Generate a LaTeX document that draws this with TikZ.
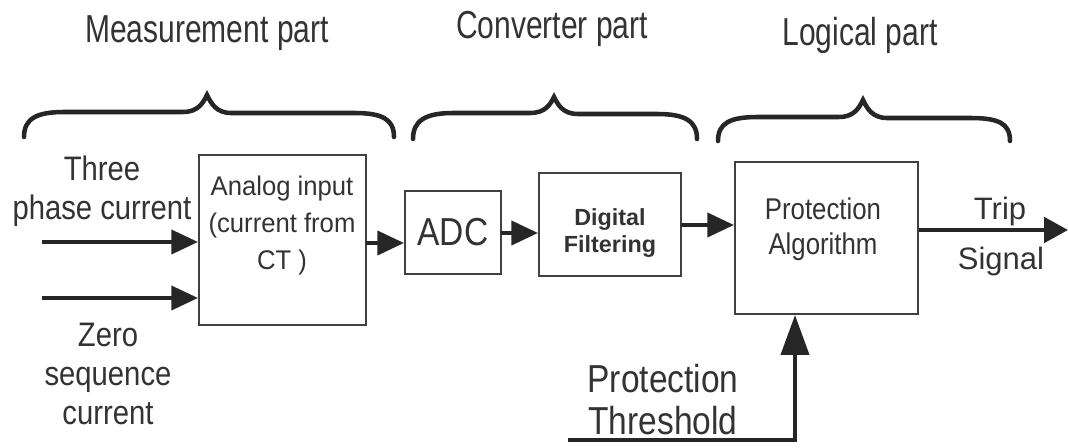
\documentclass[tikz,border=0pt]{standalone}
\usepackage{fontspec}
\setmainfont{Liberation Sans}
\newfontfamily\fA[FakeStretch=0.77]{Liberation Sans}
\newfontfamily\fB[FakeStretch=0.86]{Liberation Sans}
\newfontfamily\fC[FakeStretch=0.95]{Liberation Sans}
\usetikzlibrary{arrows.meta}
\colorlet{ink}{black!80}
\colorlet{frame}{black!75}
% curly brace over a group of blocks: left x, tip x, right x, tip y, bar y, end y
\newcommand\partbrace[6]{%
  \draw[brace] (#1,#6) .. controls (#1,#6-18) and (#1+12,#5) .. (#1+40,#5)
    -- (#2-24,#5) .. controls (#2-9,#5) and (#2-4,#4+8) .. (#2,#4)
    .. controls (#2+4,#4+8) and (#2+9,#5+1) .. (#2+24,#5+1)
    -- (#3-40,#5+1) .. controls (#3-12,#5+1) and (#3,#6-18) .. (#3,#6);}
\begin{document}
\begin{tikzpicture}[x=0.75pt,y=-0.75pt,
  brace/.style={line width=3.4pt, draw=black!85, line cap=round},
  block/.style={draw=frame, line width=1.5pt, inner sep=0pt, text=ink},
  conn/.style={line width=3pt, draw=black!85, -{Triangle[length=20pt,width=18pt]}},
  lbl/.style={text=ink, inner sep=0pt, anchor=base, align=center},
  head/.style={lbl, font=\fA\fontsize{29.25pt}{30pt}\selectfont},
  side/.style={lbl, font=\fB\fontsize{25.5pt}{29.6pt}\selectfont},
  boxtxt/.style={lbl, font=\fC\fontsize{20.25pt}{27.75pt}\selectfont},
  filttxt/.style={lbl, font=\bfseries\fontsize{17.5pt}{20.25pt}\selectfont},
  algtxt/.style={lbl, font=\fB\fontsize{22.5pt}{26.25pt}\selectfont},
  triptxt/.style={lbl, font=\fontsize{23.25pt}{24pt}\selectfont},
  thrtxt/.style={lbl, font=\fB\fontsize{29.25pt}{31.5pt}\selectfont}]
\useasboundingbox (0,0) rectangle (1068,448);

% group headings and braces
\node[head] (hmeas) at (207,43) {Measurement part};
\node[head] (hconv) at (552,39) {Converter part};
\node[head] (hlog)  at (860,46) {Logical part};
\partbrace{24}{207}{394}{95}{112}{137}
\partbrace{413}{554}{697}{97}{113}{139}
\partbrace{718}{863}{1010}{100}{117}{141}

% processing blocks (multi-line labels sit on the baseline of their last line)
\node[block, minimum width=125.25pt, minimum height=127.5pt] (analog) at (282.5,240) {};
\node[boxtxt] (analogtxt) at (282,270) {Analog input\\(current from\\CT )};
\node[block, minimum width=72pt, minimum height=62.25pt,
      font=\fB\fontsize{29.25pt}{30pt}\selectfont] (adc) at (453,232.5) {ADC};
\node[block, minimum width=106.5pt, minimum height=77.25pt] (filt) at (610,224.5) {};
\node[filttxt] (filttext) at (610,253) {Digital\\Filtering};
\node[block, minimum width=137.25pt, minimum height=114pt] (alg) at (826.5,238) {};
\node[algtxt] (algtext) at (823,255) {Protection\\Algorithm};

% inputs
\coordinate (in3) at (42,242);
\coordinate (in0) at (42,298);
\node[side] (three) at (102,220) {Three\\phase current};
\node[side] (zero) at (108,425) {Zero\\sequence\\current};
\draw[conn] (in3) -- (in3 -| analog.west);
\draw[conn] (in0) -- (in0 -| analog.west);

% chain between blocks
\coordinate (a2) at (366,243);
\coordinate (a3) at (501,233);
\coordinate (a4) at (681,225);
\draw[conn] (a2) -- (a2 -| adc.west);
\draw[conn] (a3) -- (a3 -| filt.west);
\draw[conn] (a4) -- (a4 -| alg.west);

% trip output
\coordinate (tripend) at (1068,230);
\draw[conn, -{Triangle[length=18pt,width=19pt]}] (tripend -| alg.east) -- (tripend);
\node[triptxt] (trip) at (1000,220) {Trip};
\node[triptxt] (signal) at (1001,270) {Signal};

% threshold input
\coordinate (thr) at (568,440);
\coordinate (thrcorner) at (795,440);
\node[thrtxt] (thrtext) at (663,435) {Protection\\Threshold};
\draw[conn, -{Triangle[length=30pt,width=21pt]}] (thr) -- (thrcorner) -- (thrcorner |- alg.south);
\end{tikzpicture}
\end{document}
